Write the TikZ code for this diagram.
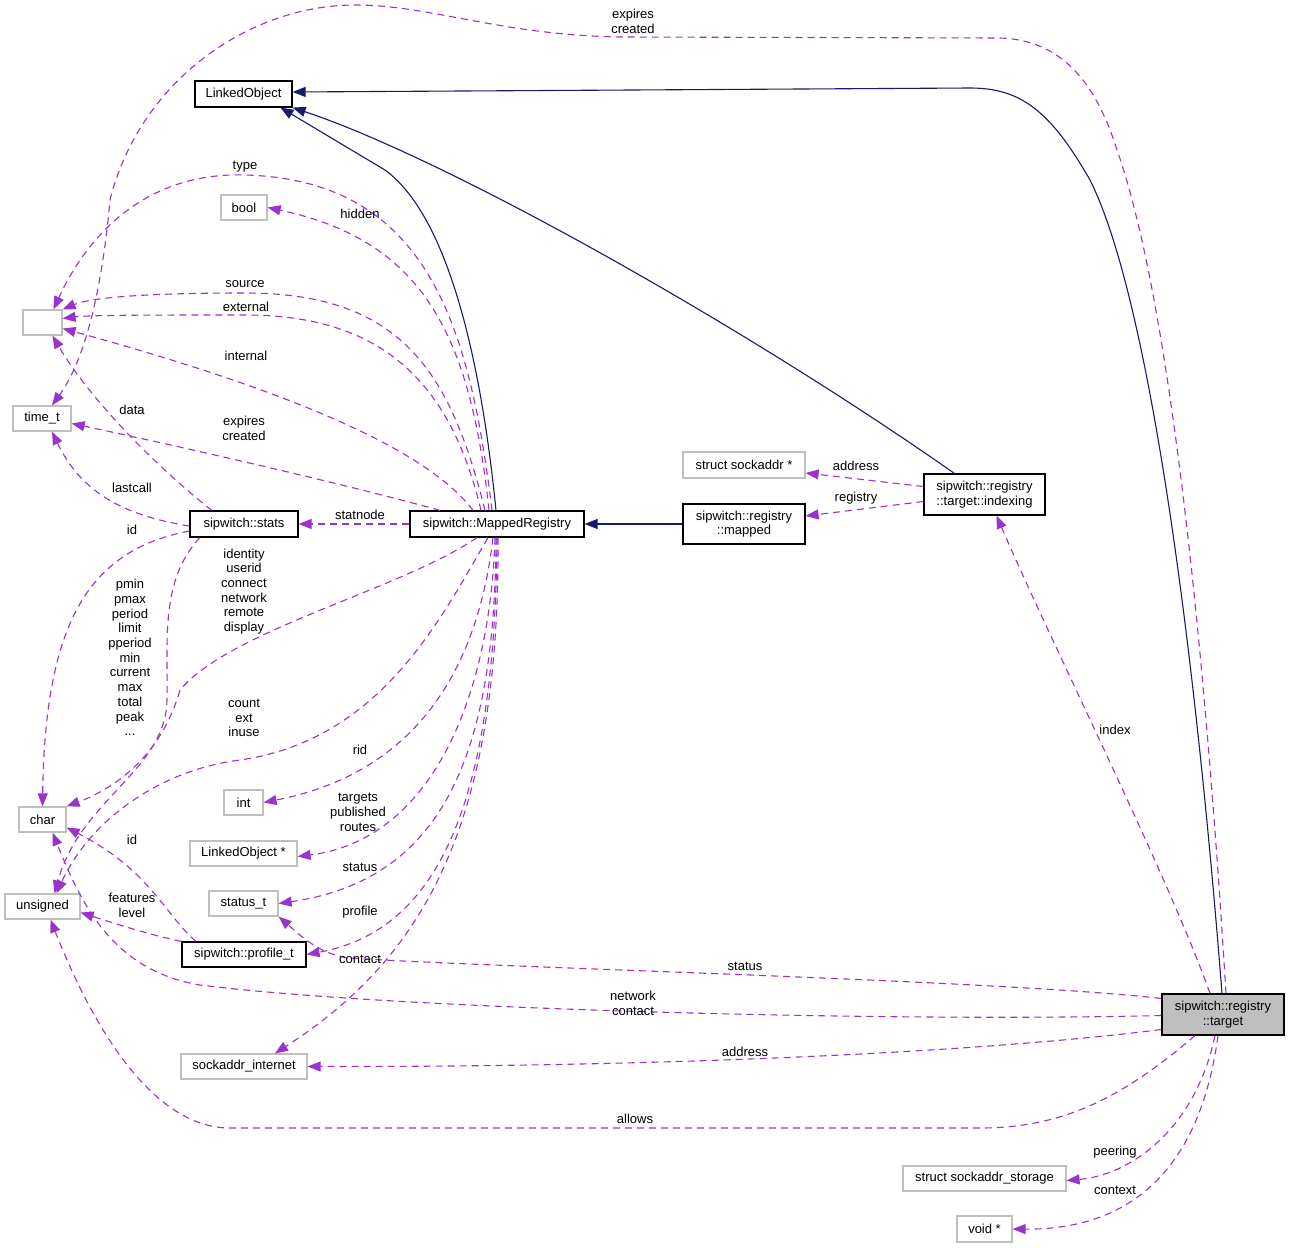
\documentclass[tikz,border=0pt]{standalone}
\usepackage{fontspec}
\setmainfont{Liberation Sans}
\usetikzlibrary{arrows.meta}
\definecolor{navyc}{HTML}{191970}
\definecolor{purp}{HTML}{9A32CD}
\definecolor{grayb}{HTML}{BFBFBF}
\begin{document}
\begin{tikzpicture}[x=1pt,y=-1pt,
  font=\fontsize{13}{14.7}\selectfont,
  box/.style={draw=black, line width=1.2pt, inner sep=0pt, minimum height=26pt, align=center},
  gbox/.style={draw=grayb, line width=1.2pt, inner sep=0pt, minimum height=26pt, align=center},
  inh/.style={draw=navyc, line width=1.1pt, -{Triangle[length=13pt,width=10pt,fill=navyc]}},
  dep/.style={draw=purp, line width=1.1pt, dash pattern=on 7pt off 5pt, -{Triangle[length=13pt,width=10pt,fill=purp]}},
  lbl/.style={inner sep=0pt, align=center}]
\useasboundingbox (0,0) rectangle (1291,1248);
\fill[white] (0,0) rectangle (1291,1248);

% nodes
\node[box, minimum width=97pt] (lo) at (243.5,94) {LinkedObject};
\node[gbox, minimum width=46pt, minimum height=25pt] (bool) at (244,207.5) {bool};
\node[gbox, minimum width=39pt, minimum height=25pt] (emp) at (42.5,322.5) {};
\node[gbox, minimum width=58pt, minimum height=25pt] (timet) at (42,418.5) {time\_t};
\node[box, minimum width=108pt] (stats) at (244,524) {sipwitch::stats};
\node[box, minimum width=174pt] (mr) at (497,524) {sipwitch::MappedRegistry};
\node[gbox, minimum width=47pt, minimum height=25pt] (chr) at (42.5,819.5) {char};
\node[gbox, minimum width=75pt, minimum height=25pt] (uns) at (42.5,906.5) {unsigned};
\node[gbox, minimum width=39pt, minimum height=25pt] (int) at (243.5,802.5) {int};
\node[gbox, minimum width=107pt, minimum height=25pt] (lop) at (243.5,853.5) {LinkedObject *};
\node[gbox, minimum width=69pt, minimum height=25pt] (stt) at (243.5,903.5) {status\_t};
\node[box, minimum width=124pt, minimum height=25pt] (prof) at (244,954.5) {sipwitch::profile\_t};
\node[gbox, minimum width=126pt, minimum height=25pt] (sin) at (244,1066.5) {sockaddr\_internet};
\node[gbox, minimum width=122pt] (ssa) at (744,465) {struct sockaddr *};
\node[box, minimum width=122pt, minimum height=40pt] (map) at (744,524) {sipwitch::registry\\::mapped};
\node[box, minimum width=121pt, minimum height=41pt] (idx) at (984.5,494.5) {sipwitch::registry\\::target::indexing};
\node[box, fill=grayb, minimum width=122pt, minimum height=41pt] (tgt) at (1223,1014.5) {sipwitch::registry\\::target};
\node[gbox, minimum width=163pt, minimum height=25pt] (sss) at (984.5,1178.5) {struct sockaddr\_storage};
\node[gbox, minimum width=55pt, minimum height=26pt] (void) at (984.5,1229) {void *};

% inheritance
\draw[inh] ([xshift=-1pt]tgt.north) .. controls (1195,650) and (1150,300) .. (1090,180)
   .. controls (1050,110) and (1020,88) .. (970,88) -- ([yshift=2pt]lo.east);
\draw[inh] (idx.north west) ++(31,0) .. controls (750,330) and (450,160) .. (lo.south east);
\draw[inh] ([xshift=-1pt]mr.north) .. controls (478,330) and (440,210) .. (385,170) -- ([xshift=37pt]lo.south);
\draw[inh] (map.west) -- (mr.east);

% MappedRegistry upward
\draw[dep] ([xshift=-5pt]mr.north) .. controls (470,330) and (430,180) .. (245,175)
   .. controls (150,172) and (90,230) .. ([xshift=11pt]emp.north);
\draw[dep] ([xshift=-8pt]mr.north) .. controls (470,330) and (420,240) .. (bool.east);
\draw[dep] ([xshift=-12pt]mr.north) .. controls (450,370) and (400,293) .. (245,293)
   .. controls (140,293) and (90,298) .. (emp.north east);
\draw[dep] ([xshift=-16pt]mr.north) .. controls (450,380) and (380,315) .. (245,315)
   .. controls (150,315) and (90,315) .. ([yshift=4pt]emp.east);
\draw[dep] ([xshift=-24pt]mr.north) .. controls (420,440) and (250,380) .. ([yshift=-6pt]emp.east);
\draw[dep] ([xshift=-57pt]mr.north) .. controls (330,480) and (150,440) .. ([yshift=-5pt]timet.east);
\draw[dep] (mr.west) -- (stats.east);

% stats
\draw[dep] ([xshift=-32pt]stats.north) .. controls (160,470) and (90,400) .. ([xshift=10pt]emp.south);
\draw[dep] ([yshift=-2pt]stats.west) .. controls (120,515) and (80,490) .. ([xshift=10pt]timet.south);
\draw[dep] ([yshift=-7pt]stats.west) .. controls (90,550) and (45,620) .. (chr.north);
\draw[dep] ([xshift=-44pt]stats.south) .. controls (160,580) and (168,640) .. (167,700)
   .. controls (166,770) and (80,800) .. ([xshift=12pt]uns.north);

% MappedRegistry downward
\draw[dep] ([xshift=-20pt]mr.south) .. controls (400,590) and (230,630) .. (180,690)
   .. controls (160,760) and (110,790) .. (chr.north east);
\draw[dep] ([xshift=-9pt]mr.south) .. controls (440,620) and (380,740) .. (240,760)
   .. controls (160,770) and (90,820) .. ([xshift=14pt]uns.north);
\draw[dep] ([xshift=-4pt]mr.south) .. controls (480,650) and (430,770) .. (int.east);
\draw[dep] ([xshift=-2pt]mr.south) .. controls (490,700) and (430,840) .. ([yshift=-3pt]lop.east);
\draw[dep] ([xshift=-1pt]mr.south) .. controls (495,760) and (440,880) .. (stt.east);
\draw[dep] (mr.south) .. controls (495,800) and (440,930) .. (prof.east);
\draw[dep] ([xshift=1pt]mr.south) .. controls (500,830) and (420,960) .. ([xshift=31pt]sin.north);

% profile_t
\draw[dep] ([xshift=-48pt]prof.north) .. controls (165,915) and (150,870) .. ([yshift=-8pt]chr.east);
\draw[dep] (prof.north west) .. controls (150,935) and (110,922) .. ([yshift=-6pt]uns.east);

% indexing
\draw[dep] ([yshift=8pt]idx.west) -- ([yshift=-8pt]ssa.east);
\draw[dep] ([yshift=-7pt]idx.west) -- ([yshift=8pt]map.east);

% target
\draw[dep] ([xshift=-13pt]tgt.north) .. controls (1170,880) and (1050,640) .. ([xshift=12pt]idx.south);
\draw[dep] ([xshift=3pt]tgt.north) .. controls (1205,650) and (1170,300) .. (1117,150)
   .. controls (1095,80) and (1060,40) .. (1000,38) -- (620,37)
   .. controls (500,35) and (430,5) .. (355,5)
   .. controls (250,5) and (140,80) .. (110,200)
   .. controls (102,290) and (85,360) .. ([xshift=10pt]timet.north);
\draw[dep] ([yshift=16pt]tgt.west) .. controls (1000,980) and (500,968) .. (350,958)
   .. controls (320,955) and (300,935) .. (stt.south east);
\draw[dep] ([yshift=-1pt]tgt.west) .. controls (900,1022) and (400,1010) .. (200,985)
   .. controls (110,970) and (80,900) .. ([xshift=10pt]chr.south);
\draw[dep] ([yshift=-15pt]tgt.west) .. controls (1000,1050) and (700,1067) .. (sin.east);
\draw[dep] ([xshift=-28pt]tgt.south) .. controls (1120,1100) and (1060,1128) .. (980,1128) -- (230,1128)
   .. controls (150,1128) and (90,1020) .. ([xshift=8pt]uns.south);
\draw[dep] ([xshift=-8pt]tgt.south) .. controls (1195,1130) and (1130,1175) .. ([yshift=-2pt]sss.east);
\draw[dep] ([xshift=-5pt]tgt.south) .. controls (1200,1170) and (1130,1230) .. (void.east);

% labels
\node[lbl] (l1) at (633,21) {expires\\created};
\node[lbl] (l2) at (245,167) {type};
\node[lbl] (l3) at (360,214) {hidden};
\node[lbl] (l4) at (245,284) {source};
\node[lbl] (l5) at (246,307) {external};
\node[lbl] (l6) at (246,356) {internal};
\node[lbl] (l7) at (132,410) {data};
\node[lbl] (l8) at (244,428) {expires\\created};
\node[lbl] (l9) at (132,488) {lastcall};
\node[lbl] (l10) at (360,515) {statnode};
\node[lbl] (l11) at (132,530) {id};
\node[lbl] (l12) at (244,591.5) {identity\\userid\\connect\\network\\remote\\display};
\node[lbl] (l13) at (130,657.5) {pmin\\pmax\\period\\limit\\pperiod\\min\\current\\max\\total\\peak\\...};
\node[lbl] (l14) at (244,718) {count\\ext\\inuse};
\node[lbl] (l15) at (360,750) {rid};
\node[lbl] (l16) at (358,812.5) {targets\\published\\routes};
\node[lbl] (l17) at (132,840) {id};
\node[lbl] (l18) at (360,867) {status};
\node[lbl] (l19) at (132,905) {features\\level};
\node[lbl] (l20) at (360,912) {profile};
\node[lbl] (l21) at (360,959) {contact};
\node[lbl] (l22) at (745,966) {status};
\node[lbl] (l23) at (633,1003) {network\\contact};
\node[lbl] (l24) at (745,1052) {address};
\node[lbl] (l25) at (635,1119) {allows};
\node[lbl] (l26) at (1115,1152) {peering};
\node[lbl] (l27) at (1115,1190) {context};
\node[lbl] (l28) at (1115,730) {index};
\node[lbl] (l29) at (856,466) {address};
\node[lbl] (l30) at (856,498) {registry};
\end{tikzpicture}
\end{document}
